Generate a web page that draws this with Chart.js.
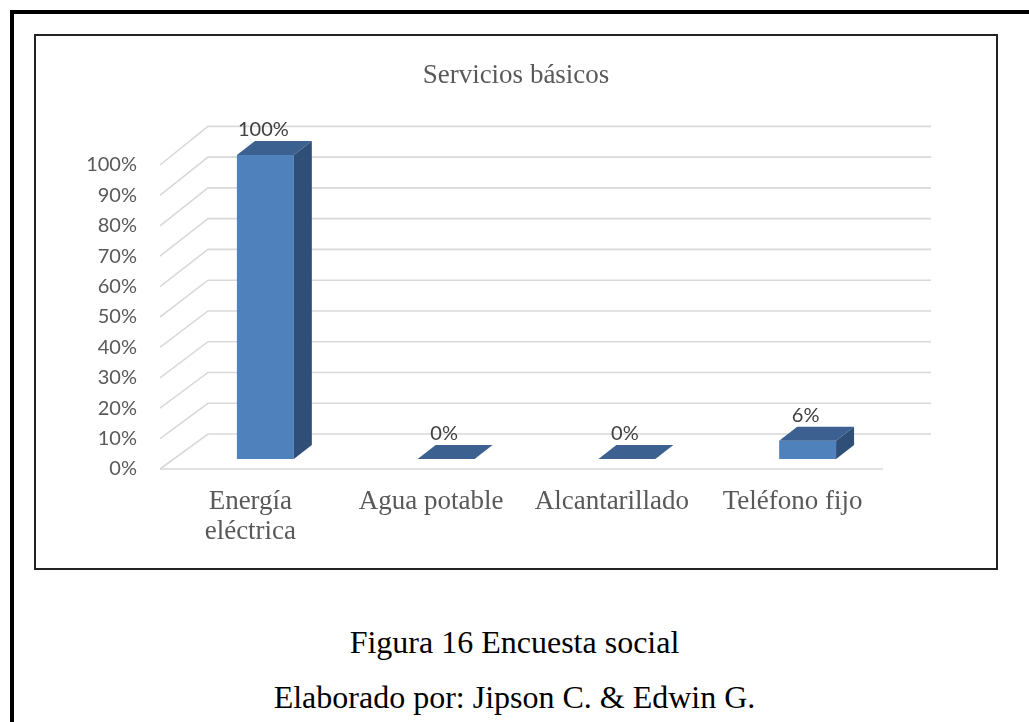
<!DOCTYPE html>
<html>
<head>
<meta charset="utf-8">
<script src="https://cdn.jsdelivr.net/npm/chart.js@4.4.1/dist/chart.umd.min.js"></script>
<style>
  html, body { margin: 0; padding: 0; background: #fff; }
  body { width: 1029px; height: 722px; position: relative; overflow: hidden; }
  .page { position: absolute; left: 10px; top: 10px; width: 1200px; height: 900px;
          border-top: 4px solid #000; border-left: 4px solid #000; }
  .box { position: absolute; left: 34px; top: 34px; width: 960px; height: 532px;
         border: 2px solid #222; }
  .cap { position: absolute; left: 0; width: 1029px; text-align: center;
         font-family: "Liberation Serif", "Times New Roman", serif; font-size: 32px;
         line-height: 32px; color: #000; }
</style>
</head>
<body>
<div class="page"></div>
<div class="box"><canvas id="chart" width="960" height="532"></canvas></div>
<div class="cap" style="top:626px">Figura 16 Encuesta social</div>
<div class="cap" style="top:681px">Elaborado por: Jipson C. &amp; Edwin G.</div>
<script>
const chartTitle = "Servicios básicos";
const categories = [["Energía", "eléctrica"], "Agua potable", "Alcantarillado", "Teléfono fijo"];
const values = [100, 0, 0, 6];
const yTicks = { min: 0, max: 100, step: 10 };

const frontColor = "#4F81BD";
const topColor = "#3C6191";
const sideColor = "#304F78";

// fake 3D: side wall + back wall grid, bar tops and sides
const shift = { x: 15, y: -10 };   // bars sit a bit inside the floor
const depth = { x: 18, y: -14 };   // bar depth
const wall = { x: 48, y: -35 };    // floor depth

const depth3d = {
    id: "depth3d",
    beforeDatasetsDraw(chart) {
        const { ctx, chartArea: a, scales: { y } } = chart;
        const y0 = y.getPixelForValue(0);
        ctx.save();
        // title, centred on the whole box
        ctx.fillStyle = "#595959";
        ctx.font = "27px 'Liberation Serif'";
        ctx.textAlign = "center";
        ctx.textBaseline = "middle";
        ctx.fillText(chartTitle, chart.width / 2, 40);

        ctx.strokeStyle = "#D9D9D9";
        ctx.lineWidth = 1.6;
        y.ticks.forEach(t => {
            const yf = y.getPixelForValue(t.value);
            const yb = yf + wall.y - (y0 - yf) * 0.012;
            ctx.beginPath();
            ctx.moveTo(a.left, yf);
            ctx.lineTo(a.left + wall.x, yb);
            ctx.lineTo(a.right + wall.x, yb);
            ctx.stroke();
        });
        ctx.beginPath();
        ctx.moveTo(a.left, y0);
        ctx.lineTo(a.right, y0);
        ctx.stroke();
        ctx.restore();
    },
    beforeDatasetDraw(chart) {
        chart.ctx.save();
        chart.ctx.translate(shift.x, shift.y);
    },
    afterDatasetDraw(chart) {
        chart.ctx.restore();
    },
    afterDatasetsDraw(chart) {
        const ctx = chart.ctx;
        ctx.save();
        chart.getDatasetMeta(0).data.forEach((bar, i) => {
            const l = bar.x - bar.width / 2 + shift.x;
            const r = bar.x + bar.width / 2 + shift.x;
            const t = bar.y + shift.y;
            const b = bar.base + shift.y;
            // top
            ctx.fillStyle = topColor;
            ctx.beginPath();
            ctx.moveTo(l, t);
            ctx.lineTo(r, t);
            ctx.lineTo(r + depth.x, t + depth.y);
            ctx.lineTo(l + depth.x, t + depth.y);
            ctx.closePath();
            ctx.fill();
            // side
            if (b - t > 0.5) {
                ctx.fillStyle = sideColor;
                ctx.beginPath();
                ctx.moveTo(r, t);
                ctx.lineTo(r + depth.x, t + depth.y);
                ctx.lineTo(r + depth.x, b + depth.y);
                ctx.lineTo(r, b);
                ctx.closePath();
                ctx.fill();
            }
            // value label
            ctx.fillStyle = "#404040";
            ctx.font = "20px Lato";
            ctx.textAlign = "center";
            ctx.textBaseline = "middle";
            ctx.fillText(values[i] + "%", bar.x + shift.x - 2, t + depth.y - 11);
        });
        ctx.restore();
    }
};

new Chart(document.getElementById("chart"), {
    type: "bar",
    data: {
        labels: categories,
        datasets: [{
            data: values,
            backgroundColor: frontColor,
            barPercentage: 0.315,
            categoryPercentage: 1,
            clip: false,
        }],
    },
    options: {
        responsive: false,
        animation: false,
        layout: { padding: { left: 0, right: 113, top: 129, bottom: 0 } },
        plugins: {
            legend: { display: false },
            tooltip: { enabled: false },
            title: { display: false },
        },
        scales: {
            x: {
                grid: { display: false, drawTicks: false },
                border: { display: false },
                ticks: {
                    color: "#595959",
                    font: { family: "Liberation Serif", size: 27, lineHeight: 1.12 },
                    padding: 18,
                    maxRotation: 0,
                    autoSkip: false,
                },
                afterFit: s => { s.height = 99; },
            },
            y: {
                min: yTicks.min,
                max: yTicks.max,
                grid: { display: false, drawTicks: false },
                border: { display: false },
                ticks: {
                    stepSize: yTicks.step,
                    color: "#595959",
                    font: { family: "Lato", size: 20 },
                    padding: 23,
                    callback: v => v + "%",
                },
                afterFit: s => { s.width = 124; },
            },
        },
    },
    plugins: [depth3d],
});
</script>
</body>
</html>
